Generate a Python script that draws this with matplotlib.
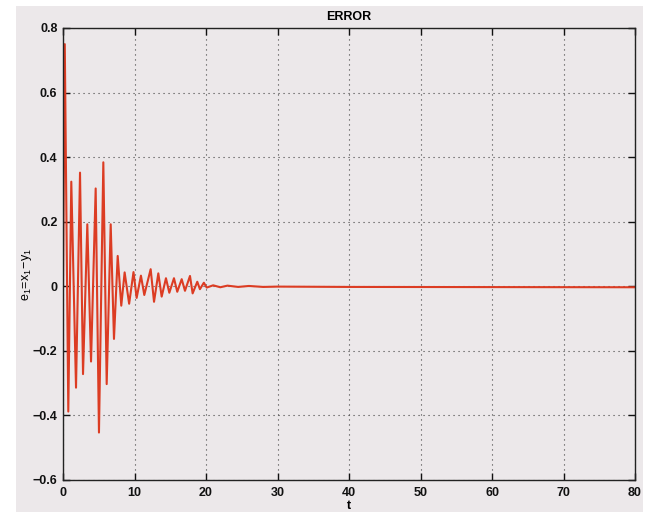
import matplotlib
matplotlib.use("Agg")
import matplotlib.pyplot as plt
from matplotlib.patches import Rectangle

# extrema of the synchronisation error e1 = x1 - y1 (time, value)
t_pts = [0.0, 0.25, 0.74, 1.16, 1.82, 2.38, 2.80, 3.40, 3.92, 4.57, 5.03,
         5.64, 6.11, 6.67, 7.13, 7.65, 8.15, 8.62, 9.25, 9.86, 10.30,
         10.90, 11.37, 12.26, 12.73, 13.33, 13.80, 14.40, 14.87, 15.52,
         15.98, 16.60, 17.06, 17.76, 18.13, 18.78, 19.15, 19.70, 20.10,
         21.0, 22.0, 23.0, 24.5, 26.0, 28.0, 30.0, 40.0, 80.0]
e1_pts = [0.0, 0.75, -0.388, 0.324, -0.314, 0.352, -0.272, 0.192, -0.233,
          0.303, -0.453, 0.384, -0.303, 0.192, -0.163, 0.094, -0.060,
          0.043, -0.054, 0.044, -0.036, 0.033, -0.027, 0.053, -0.048,
          0.040, -0.032, 0.025, -0.020, 0.025, -0.017, 0.022, -0.014,
          0.032, -0.022, 0.014, -0.009, 0.011, -0.004,
          0.003, -0.003, 0.002, -0.002, 0.001, -0.002, -0.001, -0.002, -0.003]

x_ticks = [0, 10, 20, 30, 40, 50, 60, 70, 80]
y_ticks = [-0.6, -0.4, -0.2, 0, 0.2, 0.4, 0.6, 0.8]
y_tick_labels = ["\u22120.6", "\u22120.4", "\u22120.2", "0", "0.2", "0.4", "0.6", "0.8"]

bg = "#ECE8EA"
plt.rcParams["font.family"] = ["Liberation Sans", "DejaVu Sans"]
plt.rcParams["font.weight"] = "bold"
plt.rcParams["mathtext.default"] = "regular"

fig = plt.figure(figsize=(6.55, 5.12), dpi=100)
fig.patch.set_facecolor("white")
# grey paper behind the plot
fig.patches.append(Rectangle((16 / 655, 0), (643 - 16) / 655, 506 / 512,
                             transform=fig.transFigure, facecolor=bg,
                             edgecolor="none", zorder=-10))

ax = fig.add_axes([63 / 655, 1 - 480 / 512, 572 / 655, 452 / 512])
ax.set_facecolor(bg)

ax.plot(t_pts, e1_pts, color="#DC3C23", lw=1.5, solid_joinstyle="round")

ax.set_xlim(0, 80)
ax.set_ylim(-0.6, 0.8)
ax.set_xticks(x_ticks)
ax.set_yticks(y_ticks)
ax.set_yticklabels(y_tick_labels)
ax.grid(True, color="#444444", linestyle=(0, (1, 3.5)), linewidth=0.8)
ax.tick_params(direction="in", length=5, width=1, top=True, right=True,
               labelsize=9, colors="#111111")
ax.tick_params(axis="x", pad=5)
ax.tick_params(axis="y", pad=4)
for s in ax.spines.values():
    s.set_color("#222222")
    s.set_linewidth(1.0)

ax.set_title("ERROR", fontsize=9, pad=6, fontweight="bold")
ax.set_xlabel("t", fontsize=9, labelpad=1, fontweight="bold")
ax.set_ylabel("$e_1\\!=\\!x_1\\!-\\!y_1$", fontsize=9)
ax.yaxis.set_label_coords(-0.05, 0.454)

fig.savefig("out.png", dpi=100)
